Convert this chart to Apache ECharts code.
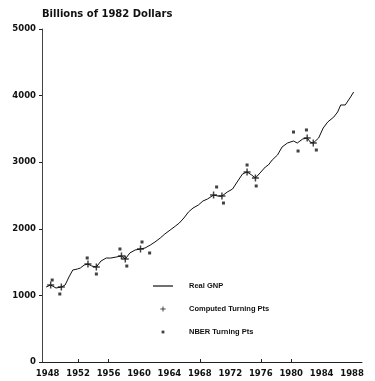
<!DOCTYPE html>
<html>
<head>
<meta charset="utf-8">
<script src="https://cdn.jsdelivr.net/npm/echarts@6/dist/echarts.min.js"></script>
<style>html,body{margin:0;padding:0;background:#fff}#c{width:375px;height:381px}</style>
</head>
<body>
<div id="c"></div>
<script>
// Real GNP (billions of 1982 dollars)
const gnpYears = [1947.8,1948.4,1949.1,1949.8,1950.3,1950.8,1951.3,1951.9,1952.3,1952.8,1953.3,1953.8,1954.4,1955.0,1955.7,1956.3,1957.0,1957.7,1958.2,1958.8,1959.5,1960.2,1960.8,1961.5,1962.1,1962.8,1963.4,1964.1,1964.8,1965.3,1965.9,1966.5,1967.1,1967.8,1968.4,1969.0,1969.8,1970.4,1970.9,1971.6,1972.3,1972.9,1973.6,1974.2,1974.8,1975.3,1975.9,1976.6,1977.0,1977.5,1978.2,1978.8,1979.5,1980.3,1980.8,1981.5,1982.1,1982.5,1982.9,1983.6,1984.2,1984.8,1985.6,1986.1,1986.5,1987.1,1987.8,1988.2];
const gnpValues = [1126,1156,1111,1126,1156,1276,1381,1396,1411,1456,1471,1441,1426,1516,1561,1561,1576,1592,1546,1637,1682,1697,1712,1757,1802,1862,1922,1982,2042,2087,2162,2252,2312,2357,2417,2447,2507,2492,2492,2552,2598,2703,2823,2853,2808,2763,2838,2928,2958,3033,3108,3228,3288,3318,3288,3348,3363,3303,3288,3363,3513,3604,3679,3754,3859,3859,3979,4054];
// Computed turning points
const computedYears = [1948.4,1949.8,1953.3,1954.4,1957.7,1958.2,1960.2,1969.8,1970.9,1974.2,1975.3,1982.1,1982.9];
const computedValues = [1156,1126,1471,1426,1592,1546,1697,2507,2492,2853,2763,3363,3288];
// NBER turning points
const nberYears = [1948.6,1949.6,1953.2,1954.4,1957.5,1958.4,1960.4,1961.4,1970.2,1971.1,1974.2,1975.4,1980.3,1980.9,1982.0,1983.3];
const nberValues = [1231,1021,1562,1321,1697,1441,1802,1637,2628,2387,2958,2643,3453,3168,3484,3183];
// Axis labels
const xTickLabels = [1948,1952,1956,1960,1964,1968,1972,1976,1980,1984,1988];
const xTickMarks = [1952,1956,1968,1976,1980];
const yTickLabels = [0,1000,2000,3000,4000,5000];
const seriesNames = ['Real GNP','Computed Turning Pts','NBER Turning Pts'];
const titleText = 'Billions of 1982 Dollars';

const plusPath = 'path://M3.3,0.6L4.7,0.6L4.7,3.3L7.4,3.3L7.4,4.7L4.7,4.7L4.7,7.4L3.3,7.4L3.3,4.7L0.6,4.7L0.6,3.3L3.3,3.3Z';
const dotIcon = 'path://M0,0M8,8M2.6,2.6L5.4,2.6L5.4,5.4L2.6,5.4Z';
const plusIcon = 'path://M0,0M8,8M3.5,1.4L4.5,1.4L4.5,3.5L6.6,3.5L6.6,4.5L4.5,4.5L4.5,6.6L3.5,6.6L3.5,4.5L1.4,4.5L1.4,3.5L3.5,3.5Z';
const lineIcon = 'path://M0,0M20,8M0,3.4L20,3.4L20,4.6L0,4.6Z';

const zip = (a, b) => a.map((v, i) => [v, b[i]]);

const chart = echarts.init(document.getElementById('c'), null, {renderer: 'canvas'});
chart.setOption({
  animation: false,
  backgroundColor: '#fff',
  title: {
    text: titleText, left: 42, top: 9, padding: 0,
    textStyle: {fontFamily: 'DejaVu Sans', fontWeight: 'bold', fontSize: 10, color: '#111'}
  },
  legend: {
    orient: 'vertical', left: 153, top: 282, itemWidth: 20, itemHeight: 8, itemGap: 15,
    padding: 0,
    textStyle: {fontFamily: 'Liberation Sans', fontWeight: 'bold', fontSize: 7.5, color: '#111', padding: [0,0,0,11]},
    data: [
      {name: seriesNames[0], icon: lineIcon},
      {name: seriesNames[1], icon: plusIcon},
      {name: seriesNames[2], icon: dotIcon}
    ]
  },
  grid: {left: 42, right: 13, top: 29, bottom: 19, containLabel: false},
  xAxis: {
    type: 'value', min: 1947.26, max: 1989.3,
    axisLine: {show: true, lineStyle: {color: '#222', width: 1}},
    axisTick: {show: true, inside: true, length: 3, customValues: xTickMarks, lineStyle: {color: '#222'}},
    axisLabel: {
      show: true, margin: 7, customValues: xTickLabels,
      fontFamily: 'DejaVu Sans', fontWeight: 'bold', fontSize: 8.5, color: '#111',
      formatter: v => String(v)
    },
    splitLine: {show: false}
  },
  yAxis: {
    type: 'value', min: 0, max: 5000, interval: 1000,
    axisLine: {show: true, lineStyle: {color: '#444', width: 1}},
    axisTick: {show: true, length: 3, lineStyle: {color: '#222'}},
    axisLabel: {
      show: true, margin: 6, customValues: yTickLabels,
      fontFamily: 'DejaVu Sans', fontWeight: 'bold', fontSize: 8.5, color: '#111',
      formatter: v => String(v)
    },
    splitLine: {show: false}
  },
  series: [
    {
      name: seriesNames[0], type: 'line',
      data: zip(gnpYears, gnpValues), showSymbol: false, smooth: false,
      lineStyle: {color: '#111', width: 1}, itemStyle: {color: '#111'}
    },
    {
      name: seriesNames[1], type: 'scatter',
      data: zip(computedYears, computedValues), symbol: plusPath, symbolSize: 7,
      itemStyle: {color: '#111'}
    },
    {
      name: seriesNames[2], type: 'scatter',
      data: zip(nberYears, nberValues), symbol: 'rect', symbolSize: 3,
      itemStyle: {color: '#111'}
    }
  ]
});
</script>
</body>
</html>
